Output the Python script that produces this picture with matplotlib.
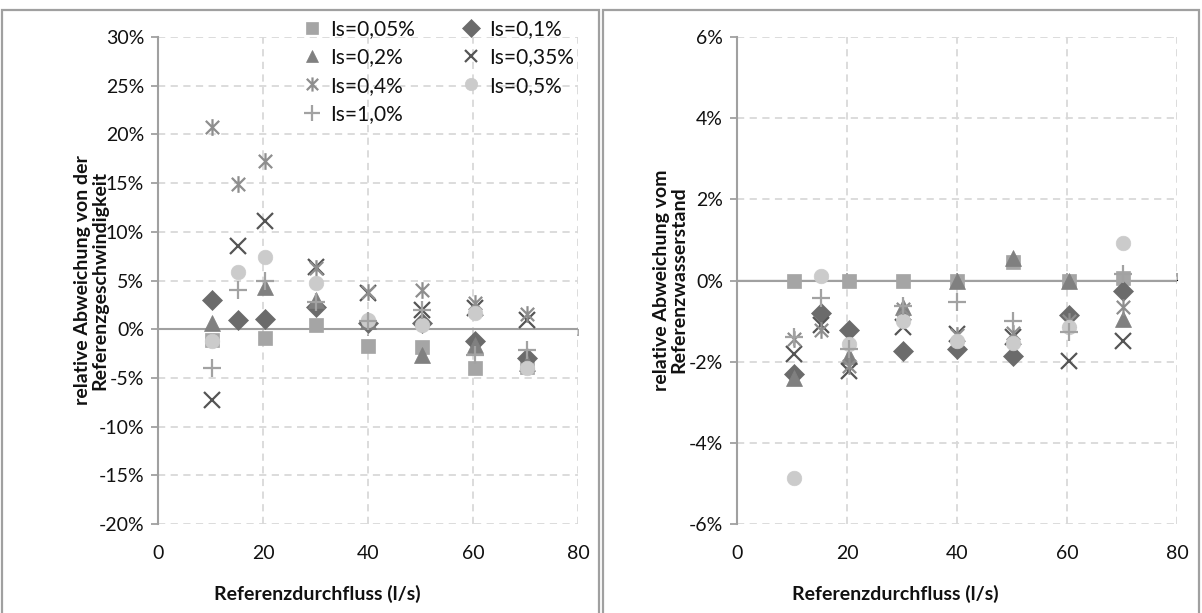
import matplotlib
matplotlib.use("Agg")
import matplotlib.pyplot as plt
from matplotlib.path import Path
from matplotlib.patches import Rectangle
from matplotlib.ticker import FuncFormatter, MultipleLocator

plt.rcParams['font.family'] = ['Lato', 'DejaVu Sans']

# Reference flows (l/s)
q_short = [10.3, 20.3, 30.1, 40.0, 50.2, 60.3, 70.2]
q_long = [10.3, 15.2, 20.3, 30.1, 40.0, 50.2, 60.3, 70.2]

series_labels = ["Is=0,05%", "Is=0,1%", "Is=0,2%", "Is=0,35%", "Is=0,4%", "Is=0,5%", "Is=1,0%"]

# Relative deviation of the velocity (%)
v_005 = [-1.1, -0.9, 0.4, -1.7, -1.8, -4.0, -3.9]
v_01 = [3.0, 0.9, 1.0, 2.3, 0.6, 0.6, -1.2, -3.0]
v_02 = [0.6, 4.3, 3.0, 0.8, -2.7, -1.6, -3.5]
v_035 = [-7.3, 8.5, 11.1, 6.4, 3.7, 2.0, 2.2, 0.9]
v_04 = [20.8, 14.9, 17.3, 6.3, 3.8, 4.0, 2.7, 1.6]
v_05 = [-1.2, 5.9, 7.4, 4.7, 0.9, 0.4, 1.7, -4.0]
v_10 = [-4.0, 4.0, 5.0, 2.8, 0.8, 2.0, -2.7, -2.1]

# Relative deviation of the water level (%)
h_005 = [0.0, 0.0, 0.0, 0.0, 0.45, 0.0, 0.07]
h_01 = [-2.3, -0.79, -1.23, -1.73, -1.68, -1.85, -0.86, -0.25]
h_02 = [-2.4, -1.85, -0.65, 0.0, 0.55, 0.0, -0.95]
h_035 = [-1.8, -1.1, -2.22, -1.15, -1.33, -1.4, -1.98, -1.48]
h_04 = [-1.43, -1.23, -2.1, -0.7, -1.35, -1.3, -1.0, -0.66]
h_05 = [-4.86, 0.12, -1.56, -1.0, -1.5, -1.53, -1.14, 0.92]
h_10 = [-1.4, -0.42, -1.68, -0.62, -0.54, -1.0, -1.28, 0.15]

x_ticks = [0, 20, 40, 60, 80]

# Excel-like asterisk: an "x" with a vertical bar through it
asterisk = Path(
    [(-1, -1), (1, 1), (-1, 1), (1, -1), (0, -1.25), (0, 1.25)],
    [Path.MOVETO, Path.LINETO, Path.MOVETO, Path.LINETO, Path.MOVETO, Path.LINETO],
)

styles = [
    dict(marker='s', ms=10, color='#a5a5a5', filled=True),
    dict(marker='D', ms=10.5, color='#6b6b6b', filled=True),
    dict(marker='^', ms=11, color='#808080', filled=True),
    dict(marker='x', ms=11, color='#555555', filled=False),
    dict(marker=asterisk, ms=12, color='#8e8e8e', filled=False),
    dict(marker='o', ms=10.5, color='#cbcbcb', filled=True),
    dict(marker='+', ms=13, color='#a2a2a2', filled=False),
]

W, H = 1202, 613
fig = plt.figure(figsize=(W / 100, H / 100), dpi=100)


def fr(x0, y_top, x1, y_bot):
    return [x0 / W, 1 - y_bot / H, (x1 - x0) / W, (y_bot - y_top) / H]


# Panel frames
for x0, x1 in [(2, 599), (603, 1199)]:
    fig.add_artist(Rectangle((x0 / W, -0.05), (x1 - x0) / W, 1.05 - 10 / H,
                             transform=fig.transFigure, fill=False,
                             edgecolor='#a0a0a0', linewidth=1.6))


def draw_series(ax, data):
    handles = []
    for (xs, ys), st in zip(data, styles):
        kw = dict(linestyle='none', marker=st['marker'], markersize=st['ms'])
        if st['filled']:
            kw.update(markerfacecolor=st['color'], markeredgecolor=st['color'], markeredgewidth=0.5)
        else:
            kw.update(markerfacecolor='none', markeredgecolor=st['color'], markeredgewidth=1.6)
        h, = ax.plot(xs, ys, **kw)
        handles.append(h)
    return handles


def style_axes(ax, ymin, ymax, ystep, ylabel, ylabel_x, xlabel_x):
    ax.set_xlim(0, 80)
    ax.set_ylim(ymin, ymax)
    ax.set_xticks(x_ticks)
    ax.yaxis.set_major_locator(MultipleLocator(ystep))
    ax.yaxis.set_major_formatter(FuncFormatter(lambda v, p: f"{v:.0f}%"))
    ax.grid(True, color='#d9d9d9', linestyle=(0, (4, 3)), linewidth=1.3)
    ax.set_axisbelow(True)
    for s in ['top', 'right', 'bottom']:
        ax.spines[s].set_visible(False)
    ax.spines['left'].set_color('#a0a0a0')
    ax.spines['left'].set_linewidth(1.5)
    ax.tick_params(axis='y', length=5, width=1.3, color='#a0a0a0', labelsize=14, pad=5, labelcolor='#111111')
    ax.tick_params(axis='x', length=0, labelsize=14, pad=15, labelcolor='#111111')
    ax.axhline(0, color='#a0a0a0', linewidth=1.5, zorder=1)
    zero = (0 - ymin) / (ymax - ymin)
    sec = ax.secondary_xaxis(zero)
    sec.set_xticks(x_ticks)
    sec.set_xticklabels([])
    sec.spines['bottom'].set_visible(False)
    sec.tick_params(length=5, width=1.3, color='#a0a0a0')
    fig.text(xlabel_x / W, 1 - 594 / H, "Referenzdurchfluss (l/s)", ha='center', va='center',
             fontsize=14, fontweight='bold', color='#111111')
    fig.text(ylabel_x / W, 1 - 280 / H, ylabel, rotation=90, ha='center', va='center',
             fontsize=14, fontweight='bold', linespacing=1.05, color='#111111')


# Left: velocity deviation
ax1 = fig.add_axes(fr(158, 37, 578, 524))
style_axes(ax1, -20, 30, 5, "relative Abweichung von der\nReferenzgeschwindigkeit", 91, 317)
hs = draw_series(ax1, [(q_short, v_005), (q_long, v_01), (q_short, v_02), (q_long, v_035),
                       (q_long, v_04), (q_long, v_05), (q_long, v_10)])
order = [0, 2, 4, 6, 1, 3, 5]
leg = ax1.legend([hs[i] for i in order], [series_labels[i] for i in order], ncol=2,
                 loc='upper left', bbox_to_anchor=(302 / W, 1 - 19 / H),
                 bbox_transform=fig.transFigure, frameon=False, fontsize=15,
                 handlelength=1.0, handletextpad=0.35, columnspacing=2.2,
                 labelspacing=0.4, borderpad=0, borderaxespad=0, markerscale=0.85)
for t in leg.get_texts():
    t.set_color('#111111')

# Right: water level deviation
ax2 = fig.add_axes(fr(737, 37, 1177, 524))
style_axes(ax2, -6, 6, 2, "relative Abweichung vom\nReferenzwasserstand", 670, 895)
draw_series(ax2, [(q_short, h_005), (q_long, h_01), (q_short, h_02), (q_long, h_035),
                  (q_long, h_04), (q_long, h_05), (q_long, h_10)])

fig.savefig("out.png", dpi=100)
